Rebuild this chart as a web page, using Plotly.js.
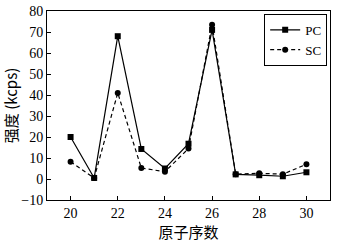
<!DOCTYPE html>
<html><head><meta charset="utf-8">
<script src="https://cdn.plot.ly/plotly-3.0.1.min.js"></script>
<style>html,body{margin:0;padding:0;background:#fff}#c{width:346px;height:244px}</style>
</head><body><div id="c"></div>
<script>
const atomicNumbers = [20, 21, 22, 23, 24, 25, 26, 27, 28, 29, 30];
const pcValues = [20, 0.5, 68, 14.3, 5, 16.8, 71, 2.2, 1.8, 1.3, 3.2];
const scValues = [8.2, 0.5, 41, 5.2, 3.5, 14.5, 73.5, 2.3, 2.7, 2.3, 7];
const xTicks = [20, 22, 24, 26, 28, 30];
const yTicks = [-10, 0, 10, 20, 30, 40, 50, 60, 70, 80];

const serif = "Liberation Serif, Times New Roman, serif";
const traces = [
  {x: atomicNumbers, y: pcValues, name: 'PC', type: 'scatter', mode: 'lines+markers',
   line: {color: '#000', width: 1.2}, marker: {symbol: 'square', size: 6, color: '#000'}},
  {x: atomicNumbers, y: scValues, name: 'SC', type: 'scatter', mode: 'lines+markers',
   line: {color: '#000', width: 1.2, dash: '4px,3px'}, marker: {symbol: 'circle', size: 6, color: '#000'}}
];
const layout = {
  width: 346, height: 244,
  margin: {l: 47, r: 16, t: 11, b: 44},
  paper_bgcolor: '#fff', plot_bgcolor: '#fff',
  font: {family: serif, size: 14, color: '#000'},
  showlegend: true,
  legend: {x: 0.99, y: 0.985, xanchor: 'right', yanchor: 'top', bgcolor: '#fff',
    bordercolor: '#000', borderwidth: 1, font: {family: serif, size: 13}, tracegroupgap: 0,
    itemwidth: 30, entrywidth: 20},
  xaxis: {range: [19, 31], tickvals: xTicks, ticks: 'inside', ticklen: 4, tickcolor: '#000',
    showline: true, linecolor: '#000', linewidth: 1, mirror: true, showgrid: false, zeroline: false,
    tickfont: {family: serif, size: 14},
    title: {text: '原子序数', font: {family: "Noto Sans CJK SC, serif", size: 15}, standoff: 4}},
  yaxis: {range: [-10, 80], tickvals: yTicks, ticks: 'inside', ticklen: 4, tickcolor: '#000',
    showline: true, linecolor: '#000', linewidth: 1, mirror: true, showgrid: false, zeroline: false,
    tickfont: {family: serif, size: 14},
    title: {text: '强度 (kcps)', font: {family: "Noto Sans CJK SC, serif", size: 15}, standoff: 2}}
};
Plotly.newPlot('c', traces, layout, {displayModeBar: false, staticPlot: true});
</script></body></html>
